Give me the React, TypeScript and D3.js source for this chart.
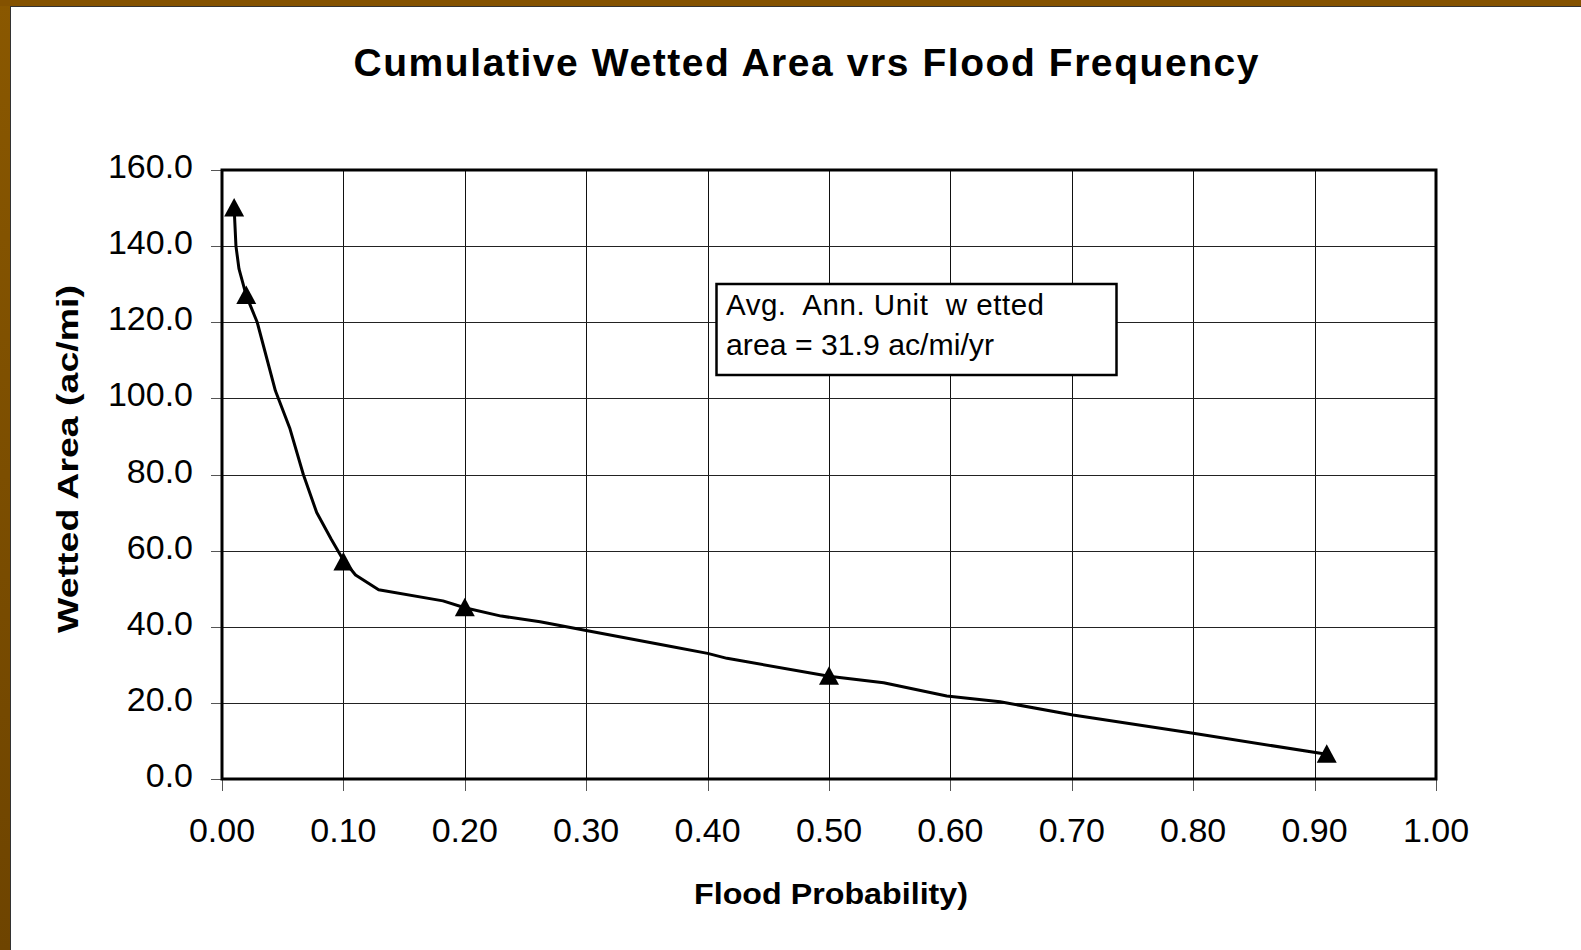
import React from "react";
import * as d3 from "d3";

const W = 1581;
const H = 950;

const titleText = "Cumulative Wetted Area vrs Flood Frequency";
const xTitle = "Flood Probability)";
const yTitle = "Wetted Area (ac/mi)";
const noteLines = ["Avg.  Ann. Unit  w etted", "area = 31.9 ac/mi/yr"];

const xTicks = [0, 0.1, 0.2, 0.3, 0.4, 0.5, 0.6, 0.7, 0.8, 0.9, 1.0];
const yTicks = [0, 20, 40, 60, 80, 100, 120, 140, 160];

// smoothed curve
const curveP = [0.010, 0.0115, 0.014, 0.020, 0.029, 0.044, 0.056, 0.067, 0.078, 0.090, 0.100, 0.110, 0.129, 0.182, 0.200, 0.230, 0.262, 0.300, 0.370, 0.400, 0.416, 0.500, 0.545, 0.597, 0.641, 0.701, 0.800, 0.910];
const curveV = [150, 140, 134, 127, 120, 102, 92, 80, 70, 63, 57.5, 53.6, 49.7, 46.8, 45, 42.8, 41.3, 39, 34.8, 33, 31.7, 27, 25.3, 21.8, 20.3, 16.8, 12, 6.5];

// triangle markers
const markerP = [0.01, 0.02, 0.10, 0.20, 0.50, 0.91];
const markerV = [150, 127, 57, 45, 27, 6.5];

const plot = { left: 222, top: 170, right: 1436, bottom: 779 };

function triPath(cx: number, cy: number) {
  const p = d3.path();
  p.moveTo(cx, cy - 10);
  p.lineTo(cx + 10, cy + 8.5);
  p.lineTo(cx - 10, cy + 8.5);
  p.closePath();
  return p.toString();
}

export default function App() {
  const x = d3.scaleLinear().domain([0, 1]).range([plot.left, plot.right]);
  const y = d3.scaleLinear().domain([0, 160]).range([plot.bottom, plot.top]);
  const line = d3
    .line<number>()
    .x((_, i) => x(curveP[i]))
    .y((d) => y(d))
    .curve(d3.curveLinear);

  const font = "'Liberation Sans', Arial, Helvetica, sans-serif";
  const nx = 716.5, ny = 284, nw = 400, nh = 91;

  return (
    <svg
      width={W}
      height={H}
      style={{ position: "absolute", left: 0, top: 0, display: "block" }}
      fontFamily={font}
    >
      <defs>
        <linearGradient id="brownL" x1="0" y1="0" x2="0" y2="1">
          <stop offset="0" stopColor="#8a5800" />
          <stop offset="1" stopColor="#6e4400" />
        </linearGradient>
      </defs>
      <rect x={0} y={0} width={W} height={H} fill="url(#brownL)" />
      <rect x={0} y={0} width={W} height={6} fill="#845200" />
      <rect x={10} y={6} width={W - 10} height={H - 6} fill="#ffffff" />
      <line x1={10.5} y1={6} x2={10.5} y2={H} stroke="#333" strokeWidth={1} />
      <line x1={10} y1={6.5} x2={W} y2={6.5} stroke="#333" strokeWidth={1} />

      <text
        x={806}
        y={76}
        textAnchor="middle"
        fontWeight="bold"
        fontSize={39}
        textLength={905}
        lengthAdjust="spacing"
      >
        {titleText}
      </text>

      {/* gridlines */}
      {xTicks.slice(1, -1).map((t) => (
        <line key={"gx" + t} x1={Math.round(x(t)) + 0.5} x2={Math.round(x(t)) + 0.5} y1={plot.top} y2={plot.bottom} stroke="#111" strokeWidth={1} />
      ))}
      {yTicks.slice(1, -1).map((t) => (
        <line key={"gy" + t} x1={plot.left} x2={plot.right} y1={Math.round(y(t)) + 0.5} y2={Math.round(y(t)) + 0.5} stroke="#222" strokeWidth={1} />
      ))}

      {/* ticks */}
      {xTicks.map((t) => (
        <line key={"tx" + t} x1={Math.round(x(t)) + 0.5} x2={Math.round(x(t)) + 0.5} y1={plot.bottom} y2={plot.bottom + 12} stroke="#555" strokeWidth={1} />
      ))}
      {yTicks.map((t) => (
        <line key={"ty" + t} x1={plot.left - 11} x2={plot.left} y1={Math.round(y(t)) + 0.5} y2={Math.round(y(t)) + 0.5} stroke="#555" strokeWidth={1} />
      ))}

      {/* plot border */}
      <rect x={plot.left} y={plot.top} width={plot.right - plot.left} height={plot.bottom - plot.top} fill="none" stroke="#000" strokeWidth={3} />

      {/* tick labels */}
      {xTicks.map((t) => (
        <text key={"lx" + t} x={x(t)} y={842} textAnchor="middle" fontSize={34} fill="#000">
          {t.toFixed(2)}
        </text>
      ))}
      {yTicks.map((t) => (
        <text key={"ly" + t} x={193} y={y(t) + 8} textAnchor="end" fontSize={34} fill="#000">
          {t.toFixed(1)}
        </text>
      ))}

      {/* curve */}
      <path d={line(curveV) || ""} fill="none" stroke="#000" strokeWidth={3} strokeLinejoin="round" />
      {markerV.map((v, i) => (
        <path key={"m" + i} d={triPath(x(markerP[i]), y(v))} fill="#000" />
      ))}

      {/* note box */}
      <rect x={nx} y={ny} width={nw} height={nh} fill="#fff" stroke="#000" strokeWidth={2.5} />
      <text x={726} y={315} fontSize={29.5} fill="#000" style={{ whiteSpace: "pre" }} textLength={318} lengthAdjust="spacing">
        {noteLines[0]}
      </text>
      <text x={726} y={355} fontSize={29.5} fill="#000" style={{ whiteSpace: "pre" }} textLength={268} lengthAdjust="spacingAndGlyphs">
        {noteLines[1]}
      </text>

      {/* axis titles */}
      <text x={831} y={904} textAnchor="middle" fontWeight="bold" fontSize={30} textLength={274} lengthAdjust="spacingAndGlyphs">
        {xTitle}
      </text>
      <text
        transform={`translate(78,459) rotate(-90)`}
        textAnchor="middle"
        fontWeight="bold"
        fontSize={30}
        textLength={348}
        lengthAdjust="spacingAndGlyphs"
      >
        {yTitle}
      </text>
    </svg>
  );
}
